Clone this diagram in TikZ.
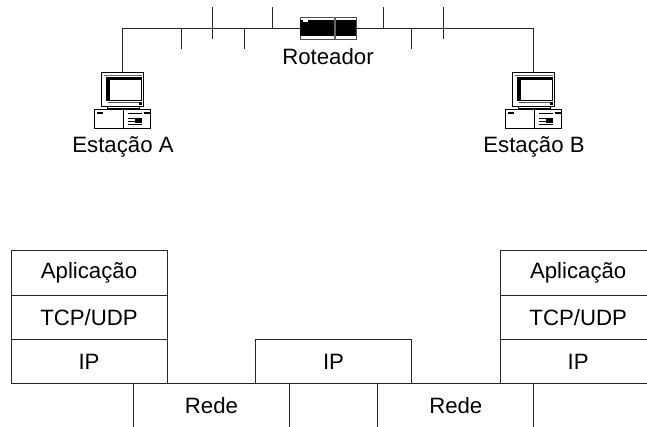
\documentclass[tikz,border=0pt]{standalone}
\usepackage{fontspec}
\setmainfont{Liberation Sans}
\tikzset{
  x=1pt,y=-1pt,
  line width=0.9pt,
  lbl/.style={font=\fontsize{22.2}{24}\selectfont,inner sep=0pt,text=black},
  layerbox/.style={draw=black!85,line width=0.9pt,minimum width=156pt,minimum height=44.3pt,inner sep=0pt,font=\fontsize{22.2}{24}\selectfont,text=black},
  wire/.style={draw=black!85,line width=0.9pt},
  pics/computer/.style={code={
    % monitor
    \draw[black,line width=0.9pt,fill=white] (-21,0) rectangle (21,34);
    \draw[black!60,line width=0.5pt] (-19,2.5) -- (19,2.5);
    \draw[black,line width=0.9pt,fill=white] (-16,4.5) rectangle (18.5,27.5);
    \fill[black] (-16,4.5) rectangle (18.5,7.5);
    \fill[black] (-16,4.5) rectangle (-13,27.5);
    \fill[black] (15.8,4.5) rectangle (18.5,6.5);
    \draw[black!70,line width=0.6pt] (-15,29.5) -- (19,29.5);
    \fill[black] (16,30) rectangle (19,32.5);
    % stand
    \draw[black,line width=0.8pt] (-15,34) -- (-15,37) (17,34) -- (17,37);
    \draw[black,line width=0.8pt] (-15,35.5) -- (17,35.5);
    % base
    \draw[black,line width=0.9pt,fill=white] (-28.5,36.8) rectangle (28,56);
    \fill[black] (-26,39.5) rectangle (-20,42);
    \draw[black,line width=0.7pt] (1,37) -- (1,56);
    \draw[black,line width=0.7pt] (5,41) -- (19,41) (5,45.5) -- (19,45.5);
    \fill[black] (12,46.5) rectangle (19,51);
    \draw[black,line width=0.5pt] (5,52) -- (19,52) (5,48.8) -- (12,48.8);
    \fill[black] (21,39.5) rectangle (27,42);
  }}
}
\newcommand{\rtick}[3]{%
  \coordinate (t#1a) at (#2,28.3);
  \coordinate (t#1b) at (#2,#3);
  \draw[wire] (t#1a) -- (t#1b);}
\begin{document}
\begin{tikzpicture}
\useasboundingbox (0,0) rectangle (647,427);
\clip (0,0) rectangle (647,427);
\fill[white] (0,0) rectangle (647,427);

% Network
\node[minimum width=56pt,minimum height=21.5pt,inner sep=0pt,draw=black!70,fill=white,line width=0.8pt] (rt) at (328,28.3) {};
\node[lbl] (rtl) at (328,56.5) {Roteador};
\fill[black] ([yshift=-3pt]rt.north west) rectangle ([yshift=3pt]rt.south east);
\draw[white,line width=0.8pt] (303,20.6) rectangle (307,21.5);
\draw[black!60,line width=1.4pt] (335,17.5) -- (335,39);

\pic (pcA) at (122.5,72.5) {computer};
\pic (pcB) at (533.5,72.5) {computer};
\coordinate (a) at (122.5,72.5);
\coordinate (ac) at (122.5,28.3);
\coordinate (b) at (533.5,72.5);
\coordinate (bc) at (533.5,28.3);
\draw[wire] (a) -- (ac) -- (rt.west);
\draw[wire] (b) -- (bc) -- (rt.east);
\rtick{1}{181}{49}
\rtick{2}{212.3}{7}
\rtick{3}{212.3}{39}
\rtick{4}{244}{49}
\rtick{5}{272}{7}
\rtick{6}{383.7}{7}
\rtick{7}{411.7}{49}
\rtick{8}{443.3}{7}
\rtick{9}{443.3}{39}
\node[lbl] (la) at (123,146.5) {Estação A};
\node[lbl] (lb) at (534,146.5) {Estação B};

% Stacks
\node[layerbox] (a1) at (89,273) {Aplicação};
\node[layerbox] (a2) at (89,317.3) {TCP/UDP};
\node[layerbox] (a3) at (89,361.6) {IP};
\node[layerbox] (m3) at (333.5,361.6) {IP};
\node[layerbox] (b1) at (578.2,273) {Aplicação};
\node[layerbox] (b2) at (578.2,317.3) {TCP/UDP};
\node[layerbox] (b3) at (578.2,361.6) {IP};
\node[layerbox] (r1) at (211.5,406) {Rede};
\node[layerbox] (r2) at (455.8,406) {Rede};
\end{tikzpicture}
\end{document}
